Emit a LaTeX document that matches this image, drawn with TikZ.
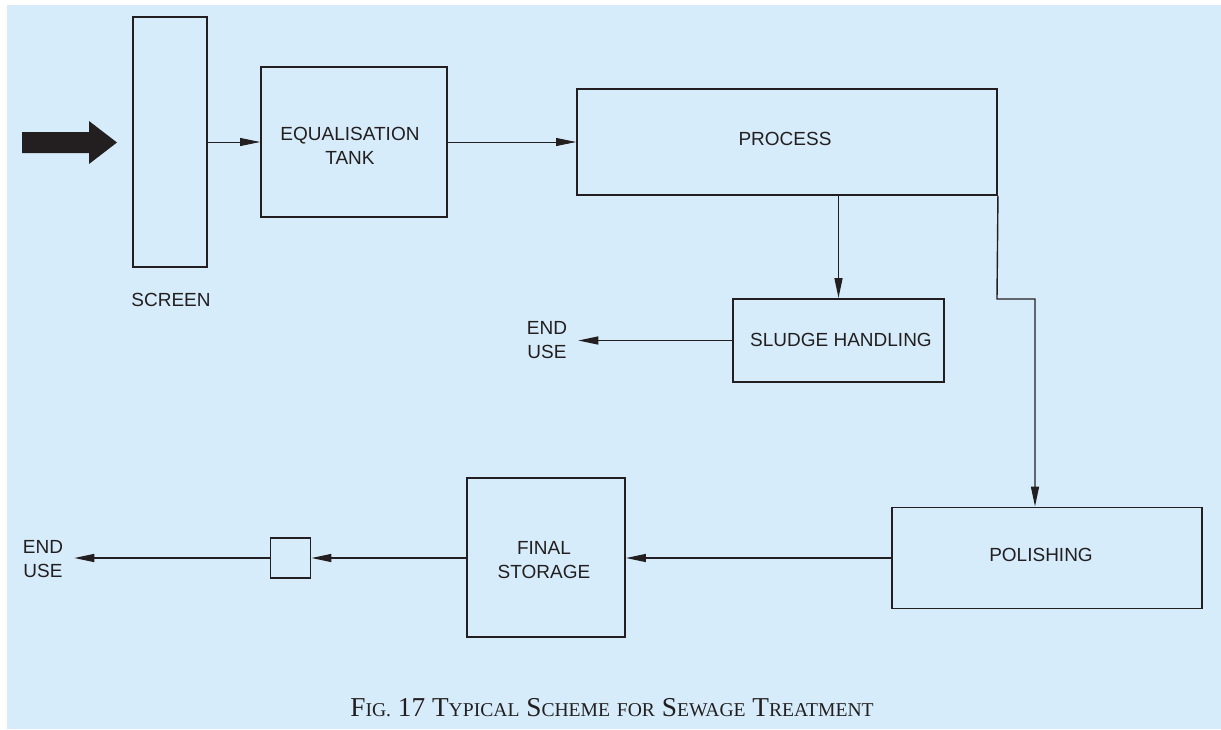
\documentclass[tikz,border=0pt]{standalone}
\usepackage{fontspec}
\setmainfont{Liberation Sans}
\newfontfamily\capfont{Liberation Serif}
\usetikzlibrary{arrows.meta,calc}
\definecolor{bgblue}{RGB}{214,236,250}
\definecolor{ink}{RGB}{35,31,32}
\newcommand{\diagfont}{\fontsize{19}{24}\selectfont}
\newcommand{\smc}[1]{{\fontsize{19.6}{20}\selectfont #1}}
\tikzset{
  box/.style={draw=ink, line width=1.9pt, inner sep=0pt},
  lbl/.style={inner sep=0pt, align=center, font=\diagfont, text=ink},
  enduse/.style={lbl, inner xsep=11pt},
  flow/.style={draw=ink, line width=1.4pt, -{Triangle[length=20pt,width=8pt]}},
  thinflow/.style={flow, line width=0.8pt}
}
\begin{document}
\begin{tikzpicture}[x=1pt,y=-1pt]
\useasboundingbox (0,0) rectangle (1221,729);
\fill[bgblue] (7,5) rectangle (1221,729);

% big inflow arrow
\fill[ink] (22,132) -- (89,132) -- (89,121) -- (117,142.5) -- (89,164) -- (89,153) -- (22,153) -- cycle;

% boxes
\node[box, minimum width=74pt, minimum height=250pt] (screen) at (170,142) {};
\node[box, minimum width=186pt, minimum height=150pt] (eq) at (354,142) {};
\node[box, minimum width=420pt, minimum height=106pt] (process) at (787,142) {};
\node[box, minimum width=211pt, minimum height=83pt] (sludge) at (838.5,340.5) {};
\node[box, minimum width=310pt, minimum height=101pt] (polish) at (1047,558) {};
\node[box, minimum width=158pt, minimum height=159pt] (storage) at (546,557.5) {};
\node[box, minimum width=40pt, minimum height=40pt] (square) at (290.5,558) {};

% texts
\node[lbl] (screenlbl) at (171,300) {SCREEN};
\node[lbl] (eqlbl) at (350,146) {EQUALISATION\\TANK};
\node[lbl] (proclbl) at (785,139) {PROCESS};
\node[lbl] (sludgelbl) at (841,340) {SLUDGE HANDLING};
\node[lbl] (pollbl) at (1041,555) {POLISHING};
\node[lbl] (storlbl) at (544,560) {FINAL\\STORAGE};
\node[enduse] (end1) at (547,340.5) {END\\USE};
\node[enduse] (end2) at (43,559) {END\\USE};

% connectors
\draw[thinflow] (screen.east |- eq.west) -- (eq.west);
\draw[thinflow] (eq.east) -- (eq.east -| process.west);
\draw[flow] (sludge.north |- process.south) -- (sludge.north);
\coordinate (c1) at (997,299);
\coordinate (c2) at (1035,299);
\draw[flow] (process.south east) -- (c1) -- (c2) -- (c2 |- polish.north);
\draw[flow] (sludge.west) -- (sludge.west -| end1.east);
\draw[flow] (polish.west) -- (polish.west -| storage.east);
\draw[flow] (storage.west |- square.east) -- (square.east);
\draw[flow] (square.west) -- (square.west -| end2.east);

% caption
\node[anchor=base, inner sep=0pt, text=ink, font=\capfont\fontsize{27.3}{30}\selectfont] (caption) at (612,716)
  {F\smc{IG.} 17 T\smc{YPICAL} S\smc{CHEME} \smc{FOR} S\smc{EWAGE} T\smc{REATMENT}};
\end{tikzpicture}
\end{document}
